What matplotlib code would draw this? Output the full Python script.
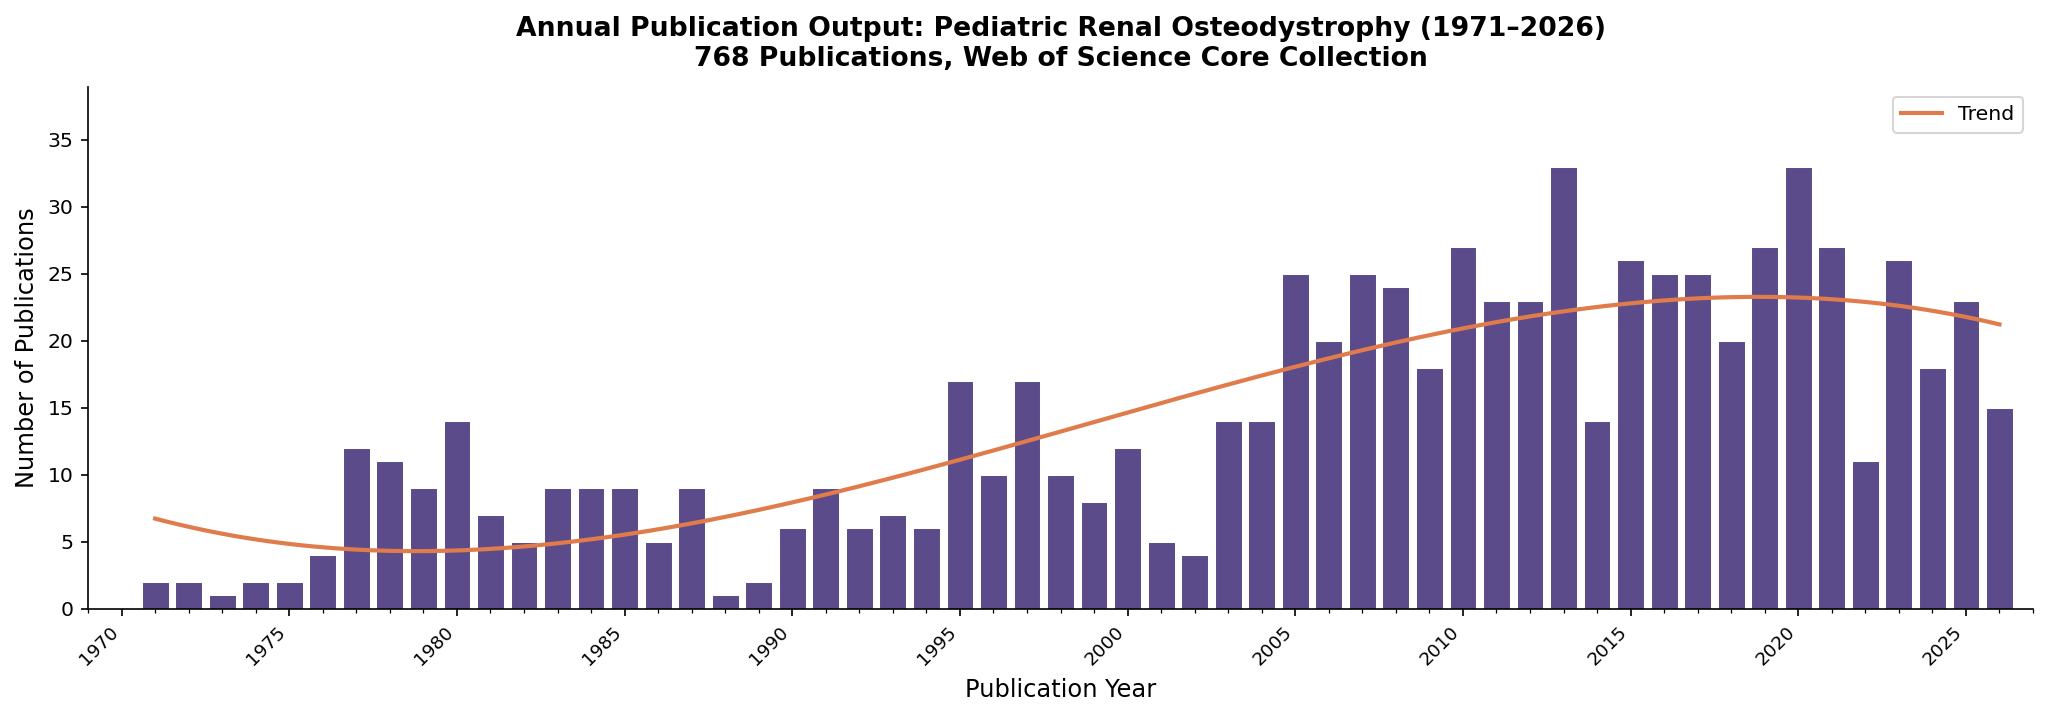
import matplotlib
matplotlib.use("Agg")
import matplotlib.pyplot as plt
import numpy as np
from matplotlib.ticker import MultipleLocator

years = np.arange(1971, 2027)
counts = [2, 2, 1, 2, 2, 4, 12, 11, 9, 14,
          7, 5, 9, 9, 9, 5, 9, 1, 2, 6,
          9, 6, 7, 6, 17, 10, 17, 10, 8, 12,
          5, 4, 14, 14, 25, 20, 25, 24, 18, 27,
          23, 23, 33, 14, 26, 25, 25, 20, 27, 33,
          27, 11, 26, 18, 23, 15]
total = sum(counts)

bar_color = "#5c4b8a"
trend_color = "#e07b4c"

# cubic trend through the yearly counts
coef = np.polyfit(years, counts, 3)
xs = np.linspace(years[0], years[-1], 300)
trend = np.polyval(coef, xs)

fig = plt.figure(figsize=(13.653, 4.78), dpi=150)
ax = fig.add_axes([0.043, 0.151, 0.9497, 0.7277])

ax.bar(years, counts, width=0.8, color=bar_color, edgecolor="white", linewidth=0.5)
ax.plot(xs, trend, color=trend_color, linewidth=2, label="Trend")

ax.set_xlim(1969, 2027)
ax.set_ylim(0, max(counts) * 1.18)
ax.xaxis.set_major_locator(MultipleLocator(5))
ax.xaxis.set_minor_locator(MultipleLocator(1))
plt.setp(ax.get_xticklabels(), rotation=45, ha="right", fontsize=8.8)
ax.tick_params(axis="y", labelsize=9.8)

ax.set_xlabel("Publication Year", fontsize=11.6)
ax.set_ylabel("Number of Publications", fontsize=11.6)
ax.set_title("Annual Publication Output: Pediatric Renal Osteodystrophy (1971\u20132026)\n"
             f"{total} Publications, Web of Science Core Collection",
             fontsize=12.8, fontweight="bold", pad=10)
ax.spines["top"].set_visible(False)
ax.spines["right"].set_visible(False)
ax.legend(loc="upper right", fontsize=9.8)

fig.savefig("out.png", dpi=150)
